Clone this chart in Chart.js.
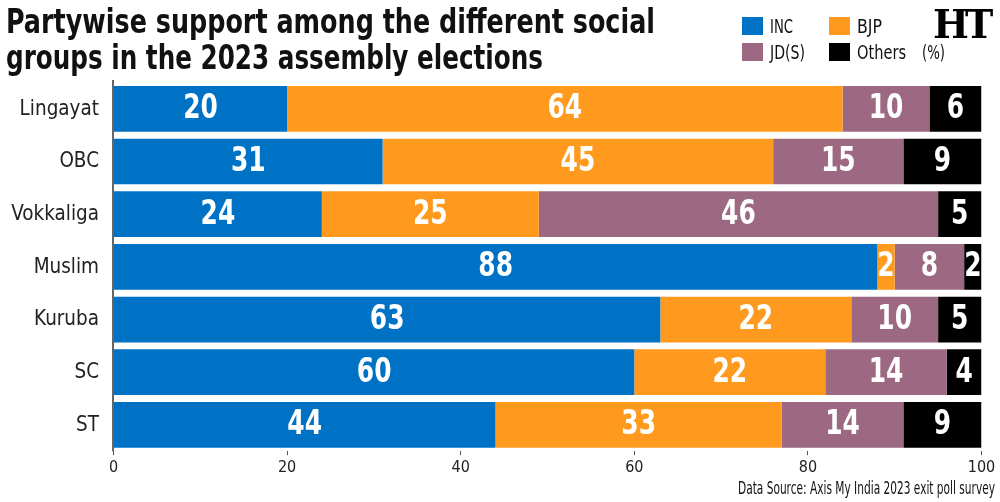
<!DOCTYPE html>
<html><head><meta charset="utf-8">
<script src="https://cdn.jsdelivr.net/npm/chart.js@4/dist/chart.umd.min.js"></script>
<style>
html,body{margin:0;padding:0;background:#fff;}
#wrap{position:relative;width:1000px;height:502px;overflow:hidden;}
canvas{position:absolute;left:0;top:0;}
.fit{position:absolute;white-space:nowrap;transform-origin:0 0;font-family:"DejaVu Sans Condensed",sans-serif;color:#111;}
.t{font-weight:bold;font-size:33px;line-height:36px;}
.leg{font-size:20px;line-height:20px;}
.sw{position:absolute;width:21px;height:18px;}
.ht{position:absolute;left:933px;top:0px;font-family:"DejaVu Serif",serif;font-weight:bold;font-size:40px;color:#000;letter-spacing:-4px;transform:scaleX(0.95);transform-origin:0 0;}
.src{font-size:17px;}
</style></head>
<body><div id="wrap">
<canvas id="c" width="1000" height="502"></canvas>
<div class="fit t" data-w="649" style="left:6px;top:4px">Partywise support among the different social</div>
<div class="fit t" data-w="537" style="left:6px;top:40px">groups in the 2023 assembly elections</div>
<div class="sw" style="left:742px;top:17px;background:#0072c6"></div><div class="fit leg" data-w="23" style="left:770px;top:16px">INC</div>
<div class="sw" style="left:829px;top:17px;background:#ff9a1f"></div><div class="fit leg" data-w="25" style="left:857px;top:16px">BJP</div>
<div class="sw" style="left:742px;top:43px;background:#9c6882"></div><div class="fit leg" data-w="35" style="left:770px;top:42px">JD(S)</div>
<div class="sw" style="left:829px;top:43px;background:#000"></div><div class="fit leg" data-w="49" style="left:857px;top:42px">Others</div>
<div class="fit leg" data-w="23" style="left:922px;top:42px">(%)</div>
<div class="ht">HT</div>
<div class="fit src" data-w="257" style="left:738px;top:478px">Data Source: Axis My India 2023 exit poll survey</div>
</div>
<script>
document.querySelectorAll('.fit').forEach(el=>{
  const w = el.getBoundingClientRect().width;
  const target = parseFloat(el.dataset.w);
  el.style.transform = 'scaleX(' + (target / w) + ')';
});

const categories = ["Lingayat","OBC","Vokkaliga","Muslim","Kuruba","SC","ST"];
const inc = [20,31,24,88,63,60,44];
const bjp = [64,45,25,2,22,22,33];
const jds = [10,15,46,8,10,14,14];
const others = [6,9,5,2,5,4,9];
const seriesNames = ["INC","BJP","JD(S)","Others"];
const seriesColors = ["#0072c6","#ff9a1f","#9c6882","#000000"];
const xTicks = [0,20,40,60,80,100];

const FONT = '"DejaVu Sans Condensed",sans-serif';

const labelPlugin = {
  id:'labels',
  afterDatasetsDraw(chart){
    const ctx = chart.ctx;
    ctx.save();
    ctx.fillStyle = '#fff';
    ctx.textAlign = 'center';
    ctx.textBaseline = 'middle';
    ctx.font = 'bold 33px ' + FONT;
    chart.data.datasets.forEach((ds,i)=>{
      const meta = chart.getDatasetMeta(i);
      meta.data.forEach((bar,j)=>{
        const v = ds.data[j];
        const cx = (bar.base + bar.x)/2;
        ctx.save();
        ctx.translate(cx, bar.y + 1);
        ctx.scale(0.84, 1);
        ctx.fillText(String(v), 0, 0);
        ctx.restore();
      });
    });
    const ys = chart.scales.y;
    ctx.fillStyle = '#222';
    ctx.textAlign = 'right';
    ctx.font = '22px ' + FONT;
    categories.forEach((c,j)=>{
      const y = ys.getPixelForValue(j);
      ctx.save();
      ctx.translate(99, y);
      ctx.scale(0.93, 1);
      ctx.fillText(c, 0, 0);
      ctx.restore();
    });
    ctx.restore();
  }
};

const all = [inc,bjp,jds,others];
new Chart(document.getElementById('c'),{
  type:'bar',
  data:{
    labels:categories,
    datasets: all.map((d,i)=>({label:seriesNames[i],data:d,backgroundColor:seriesColors[i],borderWidth:0,barPercentage:0.868,categoryPercentage:1}))
  },
  options:{
    indexAxis:'y',
    responsive:false,
    animation:false,
    layout:{padding:{top:82.5,right:18.5,bottom:0,left:0}},
    plugins:{legend:{display:false},tooltip:{enabled:false},title:{display:false}},
    scales:{
      x:{
        stacked:true,min:0,max:100,
        afterFit(s){s.height=50.8;},
        afterBuildTicks(s){s.ticks = xTicks.map(v=>({value:v}));},
        grid:{display:true,drawOnChartArea:false,drawTicks:true,tickLength:4,color:'#555',lineWidth:1},
        border:{display:false},
        ticks:{font:{family:FONT,size:16},color:'#222',padding:3,maxRotation:0}
      },
      y:{
        stacked:true,
        afterFit(s){s.width=113.5;},
        grid:{display:false},
        border:{display:false},
        ticks:{display:false}
      }
    }
  },
  plugins:[labelPlugin,{
    id:'yline',
    afterDraw(chart){
      const ctx = chart.ctx, a = chart.chartArea;
      ctx.save();
      ctx.strokeStyle = '#333';
      ctx.lineWidth = 1.5;
      ctx.beginPath();
      ctx.moveTo(a.left - 0.5, 80);
      ctx.lineTo(a.left - 0.5, a.bottom);
      ctx.stroke();
      ctx.restore();
    }
  }]
});
</script>
</body></html>
